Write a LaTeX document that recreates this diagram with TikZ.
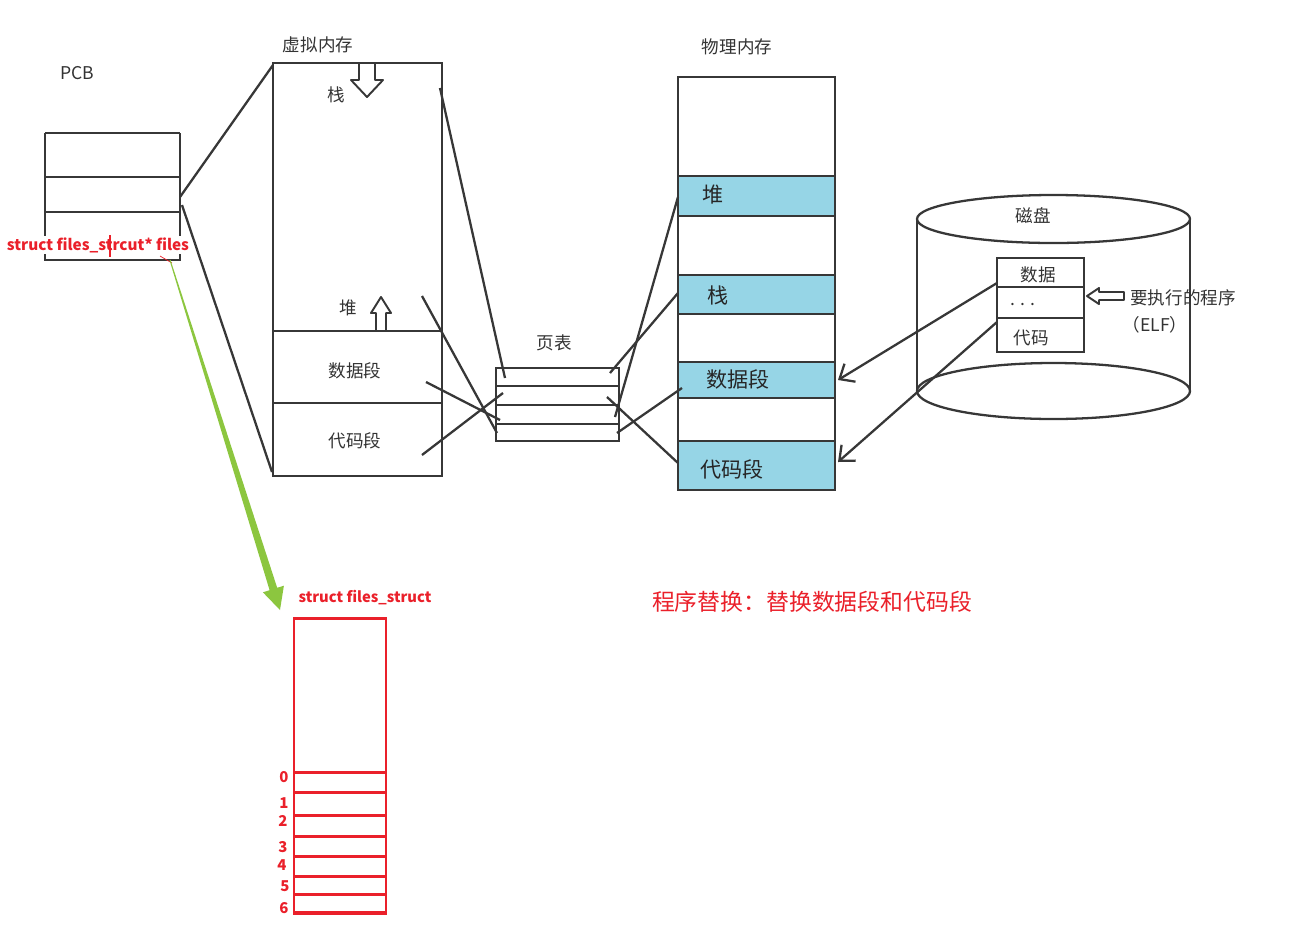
\documentclass[tikz,border=0pt]{standalone}
\usepackage{fontspec}
\setmainfont{Noto Sans CJK SC}
\usetikzlibrary{arrows.meta}
\definecolor{ln}{RGB}{55,55,55}
\definecolor{blu}{RGB}{150,213,230}
\definecolor{rd}{RGB}{234,32,42}
\definecolor{grn}{RGB}{140,198,63}
\tikzset{
 sk/.style={draw=ln, line width=1.3pt},
 lbl/.style={font=\fontsize{10}{12}\selectfont, text=black!80, inner sep=0},
 big/.style={font=\fontsize{12}{14}\selectfont, text=black!85, inner sep=0},
 rl/.style={font=\fontsize{8.7}{10}\selectfont\bfseries, text=rd, inner sep=0},
 rnum/.style={font=\fontsize{8.5}{10}\selectfont\bfseries, text=rd, inner sep=0},
 rbox/.style={draw=rd, line width=1.7pt},
 conn/.style={draw=ln, line width=1.3pt},
 arr/.style={conn, -{Straight Barb[length=7pt,width=12pt]}},
 hollow/.style={draw=ln, line width=1.1pt, fill=white, line join=round},
}
\begin{document}
\begin{tikzpicture}[x=0.02cm,y=-0.02cm]
\useasboundingbox (0,0) rectangle (1303,938);

% ---------- PCB ----------
\node[lbl] (pcb) at (77,73) {PCB};
\draw[sk] (45,133) -- (180,133);
\draw[sk] (45,177) -- (180,177);
\draw[sk] (45,212) -- (180,212);
\draw[sk] (45,133) -- (45,260);
\draw[sk] (180,133) -- (180,260);
\draw[sk] (44,260) -- (181,260);
\node[rl, fill=white, inner sep=1pt] (files) at (98,245) {struct files\_strcut* files};
\draw[rd, line width=1.6pt] (110,235) -- (110,257);
\draw[rd, line width=0.4pt] (160,256) -- (172,263);

% ---------- virtual memory ----------
\node[lbl] (vmt) at (318,45) {虚拟内存};
\coordinate (vmTL) at (273,63);
\coordinate (vmBR) at (442,476);
\draw[sk] (vmTL) rectangle (vmBR);
\draw[sk] (273,331) -- (442,331);
\draw[sk] (273,403) -- (442,403);
\draw[hollow] (359,63) -- (375,63) -- (375,80) -- (383,80) -- (367,97) -- (351,80) -- (359,80) -- cycle;
\draw[hollow] (376,331) -- (376,313) -- (371,313) -- (381,297) -- (391,313) -- (386,313) -- (386,331) -- cycle;
\node[lbl] (vstack) at (336,95) {栈};
\node[lbl] (vheap) at (348,308) {堆};
\node[lbl] (vdata) at (355,371) {数据段};
\node[lbl] (vcode) at (355,441) {代码段};

% PCB -> VM
\coordinate (pcbR1) at (180,197);
\coordinate (pcbR2) at (182,205);
\coordinate (vmL1) at (273,65);
\coordinate (vmL2) at (272,472);
\draw[conn] (pcbR1) -- (vmL1);
\draw[conn] (pcbR2) -- (vmL2);

% ---------- page table ----------
\node[lbl] (ptt) at (554,343) {页表};
\coordinate (ptTL) at (496,368);
\coordinate (ptBR) at (619,441);
\draw[sk] (ptTL) rectangle (ptBR);
\draw[sk] (496,386) -- (619,386);
\draw[sk] (496,405) -- (619,405);
\draw[sk] (496,424) -- (619,424);

% VM -> PT
\coordinate (v1) at (440,88);   \coordinate (p1) at (505,378);
\coordinate (v2) at (422,296);  \coordinate (p2) at (497,433);
\coordinate (v3) at (426,382);  \coordinate (p3) at (500,420);
\coordinate (v4) at (422,455);  \coordinate (p4) at (503,393);
\draw[conn] (v1) -- (p1);
\draw[conn] (v2) -- (p2);
\draw[conn] (v3) -- (p3);
\draw[conn] (v4) -- (p4);

% ---------- physical memory ----------
\node[lbl] (pmt) at (737,47) {物理内存};
\fill[blu] (679,176) rectangle (835,216);
\fill[blu] (679,275) rectangle (835,314);
\fill[blu] (679,362) rectangle (835,398);
\fill[blu] (679,441) rectangle (835,490);
\coordinate (pmTL) at (678,77);
\coordinate (pmBR) at (835,490);
\draw[sk] (pmTL) rectangle (pmBR);
\foreach \yy in {176,216,275,314,362,398,441}
  \draw[sk] (678,\yy) -- (835,\yy);
\node[big] (pheap) at (713,195) {堆};
\node[big] (pstack) at (718,295) {栈};
\node[big] (pdata) at (738,379) {数据段};
\node[big] (pcode) at (732,469) {代码段};

% PT -> PM
\coordinate (q1) at (615,417);  \coordinate (m1) at (678,197);
\coordinate (q2) at (610,373);  \coordinate (m2) at (678,293);
\coordinate (q3) at (617,433);  \coordinate (m3) at (682,388);
\coordinate (q4) at (607,397);  \coordinate (m4) at (678,463);
\draw[conn] (q1) -- (m1);
\draw[conn] (q2) -- (m2);
\draw[conn] (q3) -- (m3);
\draw[conn] (q4) -- (m4);

% ---------- disk ----------
\draw[sk] (917,219) -- (917,391);
\draw[sk] (1190,219) -- (1190,391);
\draw[sk, fill=white] (1053.5,219) ellipse [x radius=136.5, y radius=24];
\draw[sk] (1053.5,391) ellipse [x radius=136.5, y radius=28];
\node[lbl] (diskt) at (1033,216) {磁盘};
\coordinate (dTL) at (997,258);
\coordinate (dBR) at (1084,352);
\draw[sk] (dTL) rectangle (dBR);
\draw[sk] (997,287) -- (1084,287);
\draw[sk] (997,318) -- (1084,318);
\node[lbl] (ddata) at (1038,275) {数据};
\node[lbl] (ddots) at (1023,304) {. . .};
\node[lbl] (dcode) at (1031,338) {代码};
\draw[hollow] (1087,296) -- (1099,288) -- (1099,292) -- (1124,292) -- (1124,300) -- (1099,300) -- (1099,304) -- cycle;
\node[lbl, anchor=west] (exe) at (1130,298) {要执行的程序};
\node[lbl] (elf) at (1155,325) {（ELF）};

% disk -> PM
\coordinate (d1) at (997,283);  \coordinate (e1) at (838,380);
\coordinate (d2) at (997,322);  \coordinate (e2) at (838,462);
\draw[arr] (d1) -- (e1);
\draw[arr] (d2) -- (e2);

% ---------- green arrow ----------
\fill[grn] (170.5,259.85) -- (277.2,587.8) -- (283.9,585.7) -- (280,610) -- (262.9,592.3) -- (269.6,590.2) -- (169.5,260.15) -- cycle;

% ---------- files_struct ----------
\node[rl, font=\fontsize{8.4}{10}\selectfont\bfseries] (fst) at (365,598) {struct files\_struct};
\coordinate (fTL) at (294,618);
\coordinate (fBR) at (386,913);
\draw[rbox] (fTL) rectangle (fBR);
\foreach \yy in {772,792,815,836,856,876,894}
  \draw[rbox] (294,\yy) -- (386,\yy);
\draw[rd, line width=2.3pt] (294,913) -- (386,913);
\node[rnum] (n0) at (284,777) {0};
\node[rnum] (n1) at (284,803) {1};
\node[rnum] (n2) at (283,821) {2};
\node[rnum] (n3) at (283,847) {3};
\node[rnum] (n4) at (282,865) {4};
\node[rnum] (n5) at (285,886) {5};
\node[rnum] (n6) at (284,908) {6};

% ---------- caption ----------
\node[font=\fontsize{13}{15}\selectfont, text=rd, inner sep=0] (cap) at (812,602) {程序替换：替换数据段和代码段};
\end{tikzpicture}
\end{document}
